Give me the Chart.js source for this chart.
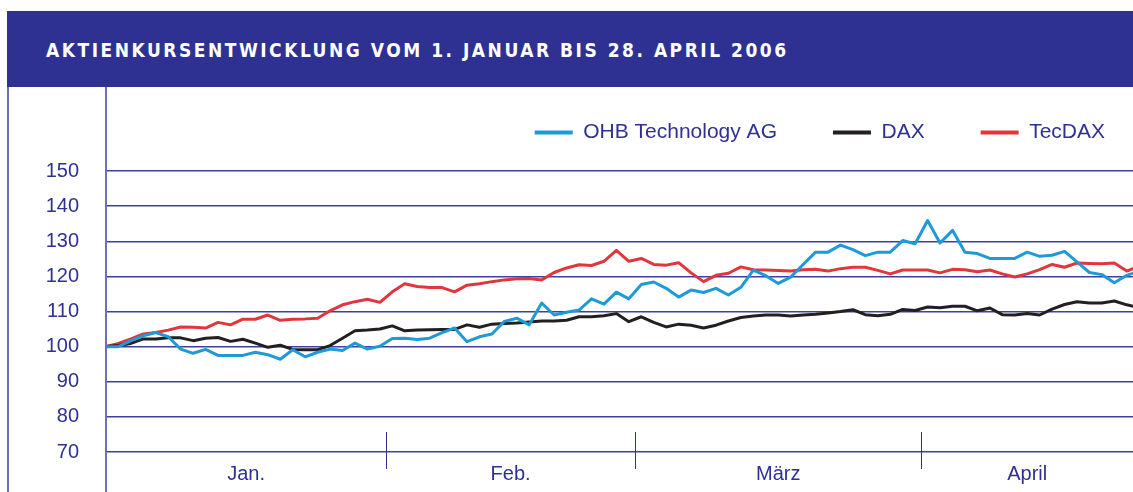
<!DOCTYPE html>
<html lang="de">
<head>
<meta charset="utf-8">
<title>Aktienkursentwicklung 2006</title>
<script src="https://cdn.jsdelivr.net/npm/chart.js@4.4.0/dist/chart.umd.min.js"></script>
<style>
  html, body { margin: 0; padding: 0; background: #fff; }
  body { width: 1133px; height: 492px; position: relative; overflow: hidden; }
  .title-bar { position: absolute; left: 7px; top: 11px; width: 1126px; height: 76px; background: #2e3192; }
  .title-bar h1 {
    margin: 0; position: absolute; left: 39px; top: 27px;
    font: bold 19px 'DejaVu Sans Condensed', 'DejaVu Sans', sans-serif;
    line-height: 24px; letter-spacing: 2.5px; color: #fff; white-space: nowrap;
  }
  .frame { position: absolute; left: 7px; top: 87px; width: 2px; height: 405px; background: #6d70b6; }
  .chart-box { position: absolute; left: 0; top: 87px; width: 1133px; height: 405px; }
</style>
</head>
<body>
<div class="title-bar"><h1>AKTIENKURSENTWICKLUNG VOM 1. JANUAR BIS 28. APRIL 2006</h1></div>
<div class="frame"></div>
<div class="chart-box"><canvas id="kurs-chart"></canvas></div>
<script>
// Trading days, 30.12.2005 (=100) to 28.04.2006
const months = ['Jan.', 'Feb.', 'März', 'April'];
const monthDays = [23, 20, 23, 18];

const ohb = [100, 100, 101.7, 103.1, 104.0, 102.8, 99.3, 98.1, 99.2, 97.5,
  97.5, 97.5, 98.4, 97.7, 96.4, 99.1, 97.1, 98.4, 99.3, 98.9,
  101.0, 99.3, 100.1, 102.3, 102.4, 102.0, 102.4, 104.0, 105.3, 101.4,
  102.8, 103.6, 107.2, 108.1, 106.2, 112.4, 109.0, 109.8, 110.4, 113.6,
  112.1, 115.5, 113.6, 117.7, 118.4, 116.6, 114.1, 116.1, 115.4, 116.6,
  114.7, 116.9, 121.8, 120.2, 118.0, 119.8, 123.4, 126.9, 126.9, 128.9,
  127.6, 125.9, 126.9, 126.9, 130.2, 129.3, 135.9, 129.5, 133.1, 126.9,
  126.5, 125.1, 125.1, 125.1, 126.9, 125.7, 126.0, 127.1, 124.1, 121.1,
  120.5, 118.2, 120.3, 121.5];

const dax = [100, 100.3, 100.9, 102.2, 102.2, 102.5, 102.5, 101.7, 102.4, 102.6,
  101.5, 102.1, 101.0, 99.8, 100.4, 99.2, 99.1, 99.1, 100.3, 102.4,
  104.5, 104.7, 105.0, 105.9, 104.5, 104.7, 104.8, 104.9, 104.9, 106.2,
  105.5, 106.4, 106.6, 106.7, 107.0, 107.3, 107.3, 107.5, 108.5, 108.5,
  108.8, 109.4, 107.1, 108.5, 106.9, 105.6, 106.4, 106.1, 105.3, 106.1,
  107.3, 108.3, 108.7, 109.0, 109.0, 108.7, 109.0, 109.2, 109.6, 110.0,
  110.5, 109.1, 108.8, 109.2, 110.6, 110.3, 111.3, 111.1, 111.5, 111.5,
  110.2, 111.0, 109.1, 109.0, 109.4, 109.0, 110.7, 112.0, 112.8, 112.4,
  112.4, 113.0, 111.9, 111.1];

const tecdax = [100, 100.9, 102.2, 103.6, 104.0, 104.7, 105.6, 105.5, 105.3, 106.9,
  106.2, 107.8, 107.8, 109.0, 107.5, 107.8, 107.9, 108.1, 110.2, 111.9,
  112.8, 113.5, 112.6, 115.6, 117.9, 117.1, 116.8, 116.8, 115.6, 117.5,
  117.9, 118.5, 119.0, 119.3, 119.4, 119.0, 121.1, 122.4, 123.3, 123.1,
  124.3, 127.4, 124.3, 125.1, 123.4, 123.2, 123.9, 121.0, 118.5, 120.3,
  120.9, 122.7, 121.9, 121.8, 121.7, 121.5, 121.9, 122.0, 121.5, 122.2,
  122.6, 122.6, 121.7, 120.7, 121.8, 121.8, 121.8, 121.0, 122.0, 121.9,
  121.3, 121.8, 120.7, 119.8, 120.7, 121.9, 123.4, 122.6, 123.8, 123.7,
  123.6, 123.8, 121.5, 122.9];

const yTicks = [70, 80, 90, 100, 110, 120, 130, 140, 150];

const ink = '#2e3192';
const gridColor = '#3d409c';
const fontFamily = "'Liberation Sans', Arial, sans-serif";
const xMax = 82.5;

// month boundaries and label centres in day-index units
const monthEdges = [];
let acc = 0;
monthDays.forEach(d => { monthEdges.push(acc - 0.5); acc += d; });
monthEdges.push(acc - 0.5);
const monthCenters = months.map((m, i) =>
  (Math.max(monthEdges[i], 0) + Math.min(monthEdges[i + 1], xMax)) / 2);

const toPoints = arr => arr.map((v, i) => ({ x: i, y: v }));

// axis line over full height + month separators
const framePlugin = {
  id: 'framePlugin',
  afterLayout(chart) {
    // pull the legend up and right, the wide item padding pushes it too far
    const lg = chart.legend;
    lg.top -= 18; lg.bottom -= 18;
    lg.left += 28; lg.right += 28;
  },
  afterDraw(chart) {
    const { ctx, chartArea, scales } = chart;
    ctx.save();
    ctx.strokeStyle = '#6d70b6';
    ctx.lineWidth = 2;
    ctx.beginPath();
    ctx.moveTo(chartArea.left, 0);
    ctx.lineTo(chartArea.left, chart.height);
    ctx.stroke();
    ctx.strokeStyle = ink;
    ctx.lineWidth = 1;
    monthEdges.slice(1, -1).forEach(v => {
      const x = Math.round(scales.x.getPixelForValue(v)) + 0.5;
      ctx.beginPath();
      ctx.moveTo(x, chartArea.bottom - 20);
      ctx.lineTo(x, chartArea.bottom + 17);
      ctx.stroke();
    });
    ctx.restore();
  }
};

const ctx = document.getElementById('kurs-chart').getContext('2d');
new Chart(ctx, {
  type: 'line',
  data: {
    datasets: [{
      label: 'OHB Technology AG',
      data: toPoints(ohb),
      borderColor: '#1f9ad7',
      backgroundColor: '#1f9ad7'
    }, {
      label: 'DAX',
      data: toPoints(dax),
      borderColor: '#231f20',
      backgroundColor: '#231f20'
    }, {
      label: 'TecDAX',
      data: toPoints(tecdax),
      borderColor: '#e0363c',
      backgroundColor: '#e0363c'
    }]
  },
  options: {
    responsive: true,
    maintainAspectRatio: false,
    animation: false,
    elements: {
      line: { borderWidth: 3, tension: 0, borderJoinStyle: 'round' },
      point: { radius: 0 }
    },
    layout: { padding: { top: -3, right: 0, bottom: 4, left: 0 } },
    plugins: {
      tooltip: { enabled: false },
      legend: {
        position: 'top',
        align: 'end',
        labels: {
          boxWidth: 38,
          boxHeight: 4,
          padding: 56,
          color: ink,
          font: { family: fontFamily, size: 21 },
          generateLabels(chart) {
            return Chart.defaults.plugins.legend.labels.generateLabels(chart)
              .map(l => Object.assign(l, { lineWidth: 0, fillStyle: l.strokeStyle }));
          }
        }
      }
    },
    scales: {
      x: {
        type: 'linear',
        min: 0,
        max: xMax,
        grid: { display: false },
        border: { display: false },
        afterBuildTicks(scale) {
          scale.ticks = monthCenters.map(v => ({ value: v }));
        },
        ticks: {
          autoSkip: false,
          maxRotation: 0,
          padding: 2,
          color: ink,
          font: { family: fontFamily, size: 20 },
          callback: (v, i) => months[i]
        }
      },
      y: {
        min: 70,
        max: 150,
        afterFit(scale) { scale.width = 106; },
        afterBuildTicks(scale) {
          scale.ticks = yTicks.map(v => ({ value: v }));
        },
        grid: { color: gridColor, lineWidth: 1.5, drawTicks: false },
        border: { display: false },
        ticks: {
          padding: 27,
          color: ink,
          font: { family: fontFamily, size: 20 }
        }
      }
    }
  },
  plugins: [framePlugin]
});
</script>
</body>
</html>
